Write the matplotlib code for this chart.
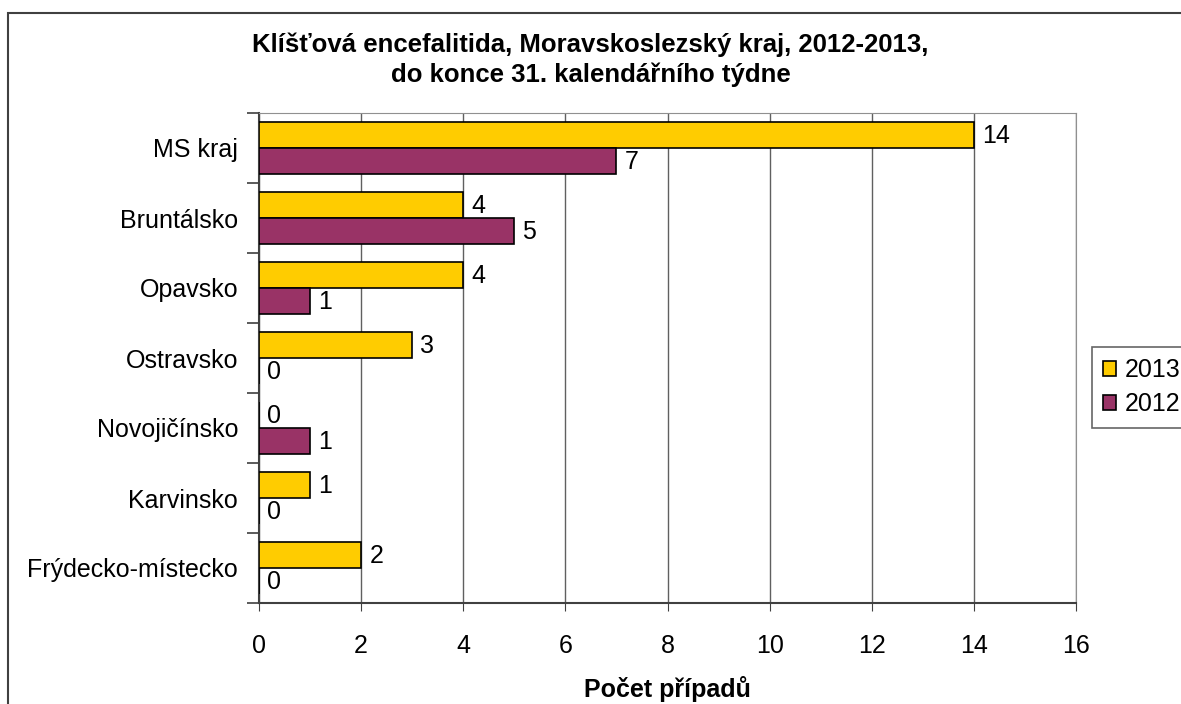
import numpy as np
import matplotlib.pyplot as plt
from matplotlib.patches import Rectangle

plt.rcParams['font.family'] = ['Liberation Sans', 'DejaVu Sans']

okresy = ['MS kraj', 'Bruntálsko', 'Opavsko', 'Ostravsko',
          'Novojičínsko', 'Karvinsko', 'Frýdecko-místecko']
pripady_2013 = [14, 4, 4, 3, 0, 1, 2]
pripady_2012 = [7, 5, 1, 0, 1, 0, 0]

zluta = '#FFCC00'
fialova = '#993366'
fs = 18

fig = plt.figure(figsize=(11.81, 7.04), dpi=100)
# vnejsi ramecek grafu (orezany vpravo a dole)
fig.patches.append(Rectangle((8 / 1181, -0.1), 1.2, 1 - 13 / 704 + 0.1,
                             transform=fig.transFigure, fill=False,
                             edgecolor='#404040', linewidth=1.5))

ax = fig.add_axes([259 / 1181, 1 - 603 / 704, (1076 - 259) / 1181, (603 - 113) / 704])

n = len(okresy)
y = np.arange(n)[::-1]  # MS kraj nahore
h = 0.371
b1 = ax.barh(y + h / 2, pripady_2013, height=h, color=zluta, edgecolor='black',
             linewidth=1.2, label='2013', zorder=3)
b2 = ax.barh(y - h / 2, pripady_2012, height=h, color=fialova, edgecolor='black',
             linewidth=1.2, label='2012', zorder=3)

for bars, vals in ((b1, pripady_2013), (b2, pripady_2012)):
    for bar, v in zip(bars, vals):
        ax.text(v + 0.16, bar.get_y() + bar.get_height() / 2 - 0.02, str(v),
                va='center', ha='left', fontsize=fs)

ax.set_xlim(0, 16)
ax.set_ylim(-0.5, n - 0.5)
ax.set_xticks(range(0, 17, 2))
ax.tick_params(axis='x', labelsize=fs, length=6, pad=16, color='#404040')
ax.set_yticks(y)
ax.set_yticklabels(okresy, fontsize=fs)
ax.tick_params(axis='y', length=0, pad=15)
# znacky mezi kategoriemi
ax.set_yticks(np.arange(-0.5, n, 1), minor=True)
ax.tick_params(axis='y', which='minor', length=9, color='#404040', width=1.2)

ax.grid(axis='x', color='#606060', linewidth=1, zorder=0)
for s in ('top', 'right'):
    ax.spines[s].set_color('#909090')
for s in ('left', 'bottom'):
    ax.spines[s].set_color('#404040')
    ax.spines[s].set_linewidth(1.5)

ax.set_xlabel('Počet případů', fontsize=fs, fontweight='bold', labelpad=13)
fig.text(0.5, 1 - 60 / 704, 'Klíšťová encefalitida, Moravskoslezský kraj, 2012-2013,\n'
         'do konce 31. kalendářního týdne', ha='center', va='center',
         fontsize=18.5, fontweight='bold', linespacing=1.3)

leg = fig.legend(handles=[b1, b2], loc='upper left',
                 bbox_to_anchor=(1092 / 1181, 1 - 347 / 704),
                 fontsize=fs, frameon=True, fancybox=False,
                 handlelength=0.5, handleheight=0.5, handletextpad=0.35,
                 borderpad=0.45, labelspacing=0.4, borderaxespad=0)
leg.get_frame().set_edgecolor('#404040')
leg.get_frame().set_linewidth(1.2)

fig.savefig('out.png', dpi=100)
